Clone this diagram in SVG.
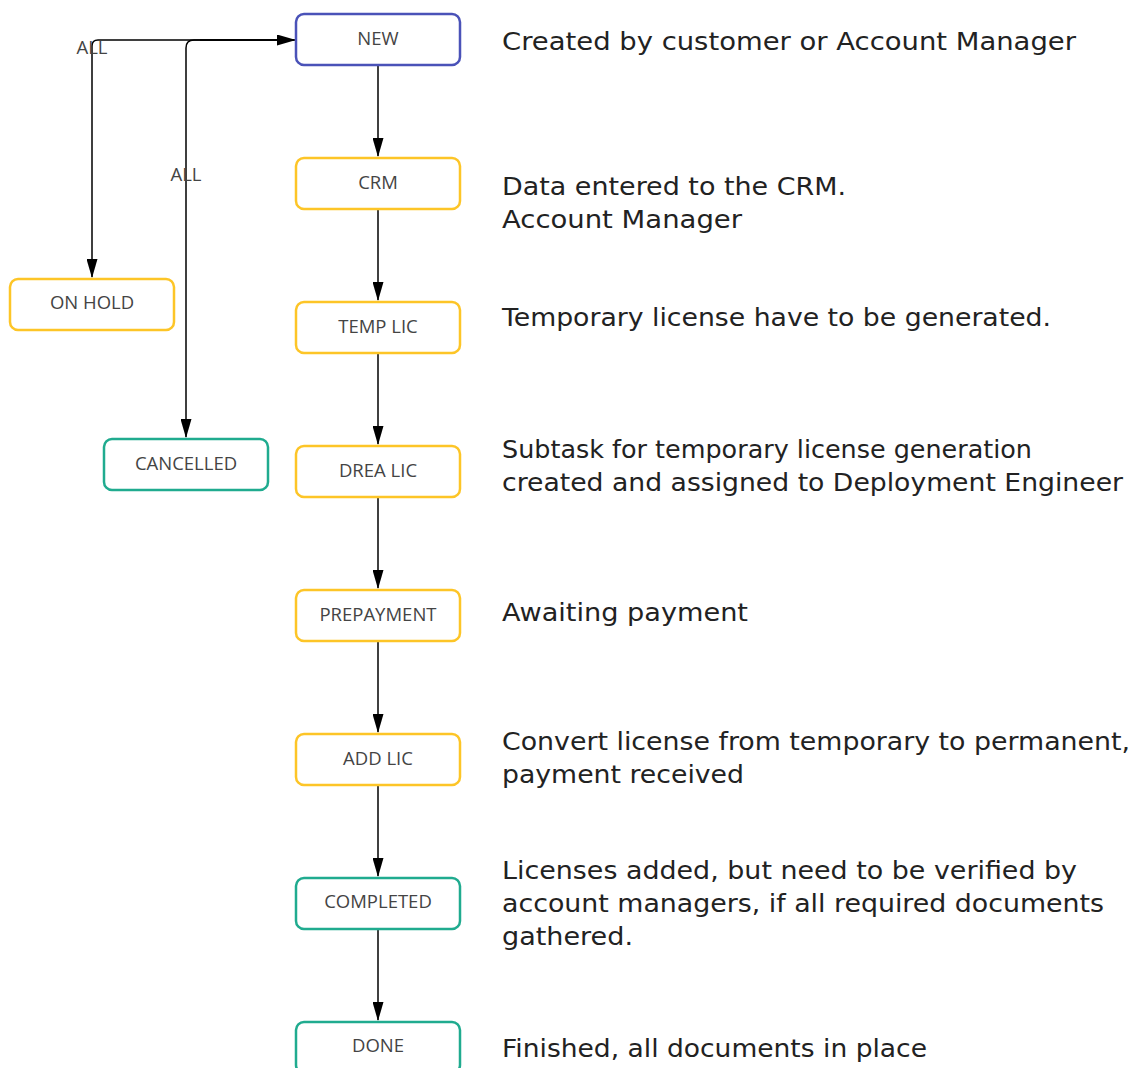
<svg xmlns="http://www.w3.org/2000/svg" width="1142" height="1068" viewBox="0 0 1142 1068">
<defs>
<marker id="arr" markerWidth="19" markerHeight="11" refX="18" refY="5.5" orient="auto" markerUnits="userSpaceOnUse">
<path d="M0,0 L19,5.5 L0,11 Z" fill="#000"/>
</marker>
<style>
.box{fill:#fff;stroke-width:2.5}
.blue{stroke:#4a52b8}
.yel{stroke:#fdc527}
.teal{stroke:#20ab8f}
.lbl{font-family:"Open Sans",sans-serif;font-size:18.5px;fill:#444;text-anchor:middle}
.desc{font-family:"DejaVu Sans",sans-serif;font-size:24px;fill:#222}
.edge{fill:none;stroke:#000;stroke-width:1.5}
</style>
</defs>
<rect width="1142" height="1068" fill="#fff"/>
<g id="connectors">
<path class="edge" d="M378,65 V156" marker-end="url(#arr)"/>
<path class="edge" d="M378,209 V300" marker-end="url(#arr)"/>
<path class="edge" d="M378,353 V444" marker-end="url(#arr)"/>
<path class="edge" d="M378,497 V588" marker-end="url(#arr)"/>
<path class="edge" d="M378,641 V732" marker-end="url(#arr)"/>
<path class="edge" d="M378,785 V876" marker-end="url(#arr)"/>
<path class="edge" d="M378,929 V1020" marker-end="url(#arr)"/>
<path class="edge" d="M294,40 H98 Q92,40 92,46 V277" marker-end="url(#arr)"/>
<path class="edge" d="M286,40 H194 Q186,40 186,48 V437" marker-end="url(#arr)"/>
<path class="edge" d="M200,40 H295" marker-end="url(#arr)"/>
<text class="lbl" x="92" y="54">ALL</text>
<text class="lbl" x="186" y="181">ALL</text>
</g>
<g id="new"><rect class="box blue" x="296" y="14" width="164" height="51" rx="8"/><text class="lbl" x="378" y="45">NEW</text></g>
<g id="crm"><rect class="box yel" x="296" y="158" width="164" height="51" rx="8"/><text class="lbl" x="378" y="189">CRM</text></g>
<g id="temp-lic"><rect class="box yel" x="296" y="302" width="164" height="51" rx="8"/><text class="lbl" x="378" y="333">TEMP LIC</text></g>
<g id="drea-lic"><rect class="box yel" x="296" y="446" width="164" height="51" rx="8"/><text class="lbl" x="378" y="477">DREA LIC</text></g>
<g id="prepayment"><rect class="box yel" x="296" y="590" width="164" height="51" rx="8"/><text class="lbl" x="378" y="621">PREPAYMENT</text></g>
<g id="add-lic"><rect class="box yel" x="296" y="734" width="164" height="51" rx="8"/><text class="lbl" x="378" y="765">ADD LIC</text></g>
<g id="completed"><rect class="box teal" x="296" y="878" width="164" height="51" rx="8"/><text class="lbl" x="378" y="908">COMPLETED</text></g>
<g id="done"><rect class="box teal" x="296" y="1022" width="164" height="51" rx="8"/><text class="lbl" x="378" y="1052">DONE</text></g>
<g id="on-hold"><rect class="box yel" x="10" y="279" width="164" height="51" rx="8"/><text class="lbl" x="92" y="309">ON HOLD</text></g>
<g id="cancelled"><rect class="box teal" x="104" y="439" width="164" height="51" rx="8"/><text class="lbl" x="186" y="470">CANCELLED</text></g>
<g id="descriptions">
<text class="desc" x="502" y="50" textLength="574" lengthAdjust="spacingAndGlyphs">Created by customer or Account Manager</text>
<text class="desc" x="502" y="195" textLength="344" lengthAdjust="spacingAndGlyphs">Data entered to the CRM.</text>
<text class="desc" x="502" y="228" textLength="240" lengthAdjust="spacingAndGlyphs">Account Manager</text>
<text class="desc" x="502" y="326" textLength="549" lengthAdjust="spacingAndGlyphs">Temporary license have to be generated.</text>
<text class="desc" x="502" y="458" textLength="530" lengthAdjust="spacingAndGlyphs">Subtask for temporary license generation</text>
<text class="desc" x="502" y="491" textLength="621" lengthAdjust="spacingAndGlyphs">created and assigned to Deployment Engineer</text>
<text class="desc" x="502" y="621" textLength="246" lengthAdjust="spacingAndGlyphs">Awaiting payment</text>
<text class="desc" x="502" y="750" textLength="628" lengthAdjust="spacingAndGlyphs">Convert license from temporary to permanent,</text>
<text class="desc" x="502" y="783" textLength="242" lengthAdjust="spacingAndGlyphs">payment received</text>
<text class="desc" x="502" y="879" textLength="575" lengthAdjust="spacingAndGlyphs">Licenses added, but need to be verified by</text>
<text class="desc" x="502" y="912" textLength="602" lengthAdjust="spacingAndGlyphs">account managers, if all required documents</text>
<text class="desc" x="502" y="945" textLength="131" lengthAdjust="spacingAndGlyphs">gathered.</text>
<text class="desc" x="502" y="1057" textLength="425" lengthAdjust="spacingAndGlyphs">Finished, all documents in place</text>
</g>
</svg>
